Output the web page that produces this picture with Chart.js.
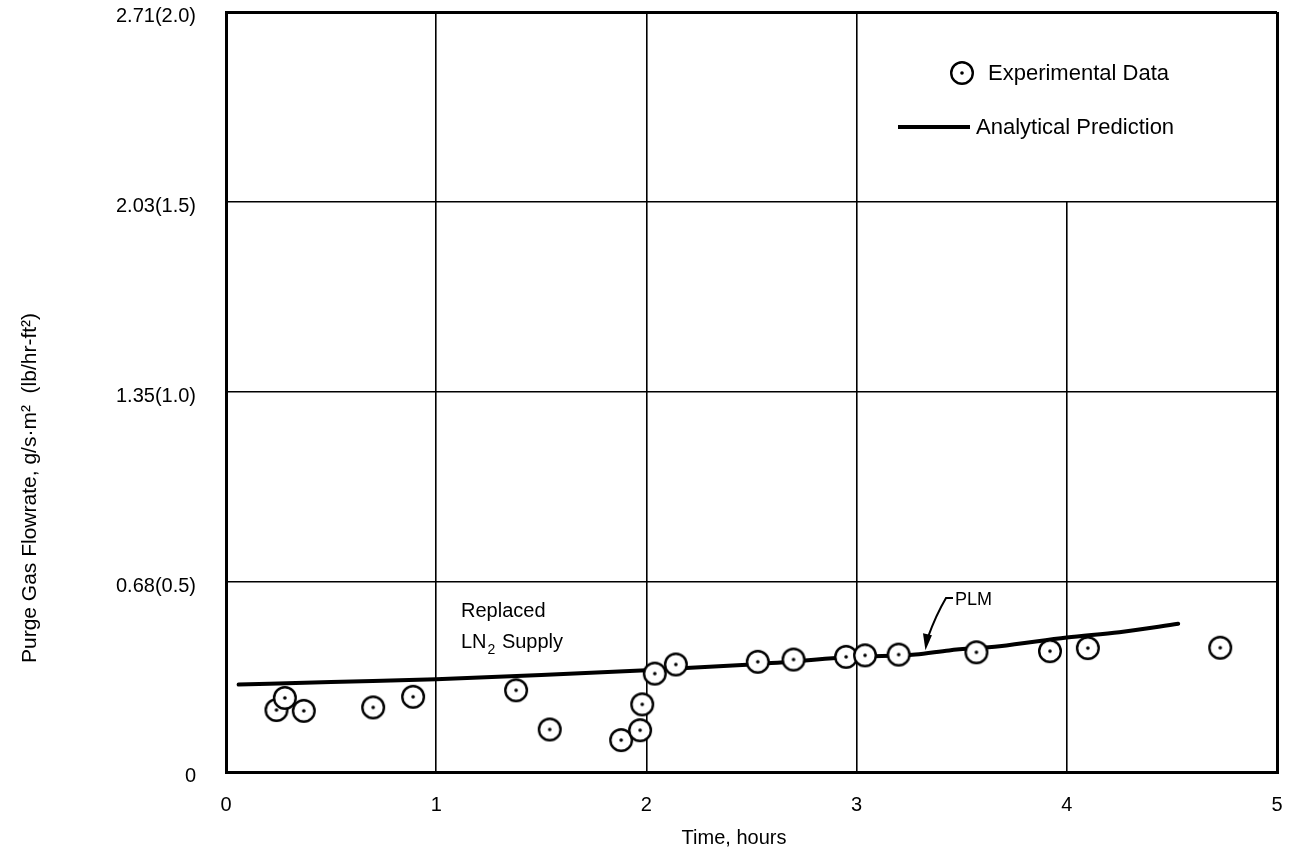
<!DOCTYPE html>
<html><head><meta charset="utf-8">
<script src="https://cdn.jsdelivr.net/npm/chart.js@4.4.0/dist/chart.umd.min.js"></script>
<style>html,body{margin:0;padding:0;background:#fff;} #wrap{width:1289px;height:851px;position:relative}</style>
</head><body><div id="wrap"><canvas id="c" width="1289" height="851"></canvas></div>
<script>
// Experimental data (time, hours ; flowrate in lb/hr-ft^2)
const expTime = [0.24, 0.28, 0.37, 0.70, 0.89, 1.38, 1.54, 1.88, 1.97, 1.98, 2.04, 2.14, 2.53, 2.70, 2.95, 3.04, 3.20, 3.57, 3.92, 4.10, 4.73];
const expFlow = [0.163, 0.195, 0.161, 0.170, 0.198, 0.215, 0.112, 0.084, 0.110, 0.178, 0.259, 0.283, 0.290, 0.296, 0.303, 0.307, 0.309, 0.315, 0.318, 0.326, 0.327];
// Analytical prediction
const predTime = [0.06, 0.5, 1.0, 1.5, 2.0, 2.5, 3.0, 3.28, 3.44, 3.68, 4.0, 4.25, 4.53];
const predFlow = [0.230, 0.237, 0.244, 0.255, 0.268, 0.283, 0.303, 0.309, 0.320, 0.331, 0.354, 0.368, 0.390];
// Axis ticks
const xTickValues = [0, 1, 2, 3, 4, 5];
const yTickValues = [0, 0.5, 1.0, 1.5, 2.0];
const yTickLabels = ['0', '0.68(0.5)', '1.35(1.0)', '2.03(1.5)', '2.71(2.0)'];
const xTitle = 'Time, hours';
const yTitle = 'Purge Gas Flowrate, g/s\u00B7m\u00B2  (lb/hr-ft\u00B2)';
const legendLabels = ['Experimental Data', 'Analytical Prediction'];

const FONT = '"Liberation Sans", Arial, Helvetica, sans-serif';

function makeMarker(){
  const c = document.createElement('canvas');
  c.width = 28; c.height = 28;
  const g = c.getContext('2d');
  g.fillStyle = '#fff';
  g.strokeStyle = '#000';
  g.lineWidth = 2.4;
  g.beginPath(); g.arc(14, 14, 10.8, 0, Math.PI * 2); g.fill(); g.stroke();
  g.fillStyle = '#000';
  g.beginPath(); g.arc(14, 14, 1.8, 0, Math.PI * 2); g.fill();
  return c;
}
const marker = makeMarker();

const expData = expTime.map((t, i) => ({x: t, y: expFlow[i]}));
const predData = predTime.map((t, i) => ({x: t, y: predFlow[i]}));

function noPad(s){ s.paddingTop = 0; s.paddingBottom = 0; s.paddingLeft = 0; s.paddingRight = 0; }

const decor = {
  id: 'decor',
  beforeDatasetsDraw(chart){
    const {ctx, scales:{x, y}} = chart;
    ctx.save();
    ctx.fillStyle = '#fff';
    const xp = x.getPixelForValue(4);
    ctx.fillRect(xp - 3, y.getPixelForValue(2.0) + 2, 6, y.getPixelForValue(1.5) - y.getPixelForValue(2.0) - 3);
    ctx.restore();
  },
  afterDraw(chart){
    const {ctx, scales:{x, y}} = chart;
    ctx.save();
    ctx.fillStyle = '#000';
    ctx.strokeStyle = '#000';
    // Legend
    ctx.drawImage(marker, 962 - 14, 73 - 14);
    ctx.font = '22px ' + FONT;
    ctx.textBaseline = 'middle';
    ctx.textAlign = 'left';
    ctx.fillText(legendLabels[0], 988, 74);
    ctx.lineWidth = 4;
    ctx.beginPath(); ctx.moveTo(898, 127); ctx.lineTo(970, 127); ctx.stroke();
    ctx.fillText(legendLabels[1], 976, 128);
    // Annotation "Replaced LN2 Supply"
    ctx.font = '20px ' + FONT;
    ctx.textBaseline = 'alphabetic';
    ctx.fillText('Replaced', 461, 617);
    ctx.fillText('LN', 461, 648);
    const lnW = ctx.measureText('LN').width;
    ctx.font = '14px ' + FONT;
    ctx.fillText('2', 461 + lnW + 1, 654);
    const sW = ctx.measureText('2').width;
    ctx.font = '20px ' + FONT;
    ctx.fillText(' Supply', 461 + lnW + sW + 2, 648);
    // PLM leader
    const tipX = x.getPixelForValue(3.33), tipY = y.getPixelForValue(0.318);
    ctx.lineWidth = 2;
    ctx.beginPath();
    ctx.moveTo(953, 598); ctx.lineTo(946, 598);
    ctx.quadraticCurveTo(936, 615, tipX + 2, tipY - 14);
    ctx.stroke();
    ctx.beginPath();
    ctx.moveTo(tipX - 0.5, tipY - 1);
    ctx.lineTo(tipX - 3, tipY - 18);
    ctx.lineTo(tipX + 6, tipY - 16);
    ctx.closePath(); ctx.fill();
    ctx.font = '18px ' + FONT;
    ctx.textBaseline = 'middle';
    ctx.fillText('PLM', 955, 600);
    // Axis titles
    ctx.font = '20px ' + FONT;
    ctx.textAlign = 'center';
    ctx.fillText(xTitle, 734, 838);
    ctx.translate(30, 488);
    ctx.rotate(-Math.PI / 2);
    ctx.font = '21px ' + FONT;
    ctx.fillText(yTitle, 0, 0);
    ctx.restore();
  }
};

new Chart(document.getElementById('c'), {
  type: 'scatter',
  data: {
    datasets: [
      {
        label: legendLabels[1],
        type: 'line',
        data: predData,
        borderColor: '#000',
        borderWidth: 4,
        pointRadius: 0,
        cubicInterpolationMode: 'monotone',
        borderCapStyle: 'round',
        order: 2
      },
      {
        label: legendLabels[0],
        data: expData,
        pointStyle: marker,
        pointRadius: 11,
        order: 1
      }
    ]
  },
  options: {
    responsive: false,
    animation: false,
    events: [],
    layout: {padding: {top: 10, right: 10, left: 0, bottom: 0}},
    plugins: {legend: {display: false}, tooltip: {enabled: false}, title: {display: false}},
    scales: {
      x: {
        type: 'linear', min: 0, max: 5,
        afterFit(s){ s.height = 79; noPad(s); },
        afterBuildTicks(s){ s.ticks = xTickValues.map(v => ({value: v})); },
        ticks: {color: '#000', font: {family: FONT, size: 20}, padding: 21, maxRotation: 0},
        grid: {color: '#000', drawTicks: false, lineWidth: c => (c.tick && (c.tick.value === 0 || c.tick.value === 5)) ? 3 : 1.6},
        border: {display: true, color: '#000', width: 3}
      },
      y: {
        type: 'linear', min: 0, max: 2,
        afterFit(s){ s.width = 226; noPad(s); },
        afterBuildTicks(s){ s.ticks = yTickValues.map(v => ({value: v})); },
        ticks: {color: '#000', font: {family: FONT, size: 20}, padding: 30, labelOffset: 4,
          callback: (v, i) => yTickLabels[i]},
        grid: {color: '#000', drawTicks: false, lineWidth: c => (c.tick && (c.tick.value === 0 || c.tick.value === 2)) ? 3 : 1.6},
        border: {display: true, color: '#000', width: 3}
      }
    }
  },
  plugins: [decor]
});
</script>
</body></html>
